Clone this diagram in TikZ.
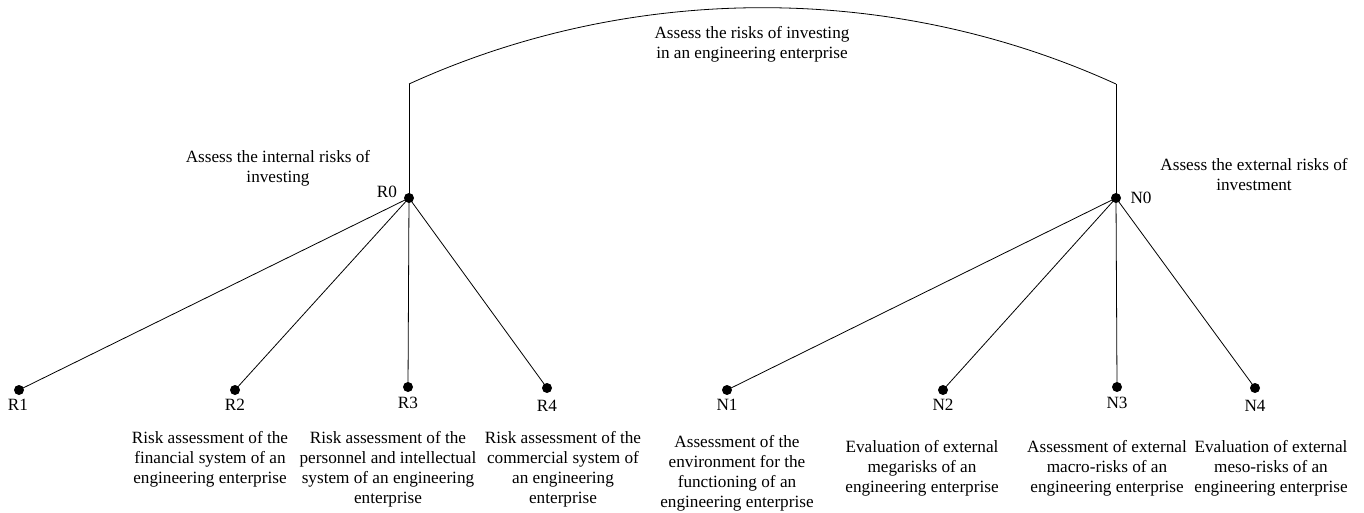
\documentclass[tikz,border=0pt]{standalone}
\usepackage{fontspec}
\setmainfont{Liberation Serif}
\begin{document}
\begin{tikzpicture}[x=1pt,y=-1pt,
  dot/.style={circle,fill=black,inner sep=0pt,minimum size=10pt},
  lbl/.style={inner sep=0pt,font=\fontsize{17.2}{20}\selectfont},
  txt/.style={inner sep=0pt,anchor=north,align=center,font=\fontsize{17.2}{20}\selectfont},
  conn/.style={line width=0.8pt}]
\useasboundingbox (0,0) rectangle (1364,513);
% dots
\node[dot] (R0) at (409,198) {};
\node[dot] (N0) at (1116,198) {};
\node[dot] (R1) at (19,390) {};
\node[dot] (R2) at (235,390) {};
\node[dot] (R3) at (408,387) {};
\node[dot] (R4) at (547,388) {};
\node[dot] (N1) at (727,390) {};
\node[dot] (N2) at (943,390) {};
\node[dot] (N3) at (1117,387) {};
\node[dot] (N4) at (1255,388) {};
\coordinate (RT) at (409,84);
\coordinate (NT) at (1116,84);
% connectors
\draw[conn] (R0.center) -- (RT);
\draw[conn] (N0.center) -- (NT);
\draw[conn] (RT) to[bend left=24.5,looseness=0.89] (NT);
\foreach \c in {R1,R2,R3,R4} \draw[conn] (R0.center) -- (\c.center);
\foreach \c in {N1,N2,N3,N4} \draw[conn] (N0.center) -- (\c.center);
% labels
\node[lbl] (lR0) at (387,192) {R0};
\node[lbl] (lN0) at (1141,198) {N0};
\node[lbl] (lR1) at (18,405) {R1};
\node[lbl] (lR2) at (235,405) {R2};
\node[lbl] (lR3) at (408,403) {R3};
\node[lbl] (lR4) at (547,406) {R4};
\node[lbl] (lN1) at (727,405) {N1};
\node[lbl] (lN2) at (943,405) {N2};
\node[lbl] (lN3) at (1117,403) {N3};
\node[lbl] (lN4) at (1255,406) {N4};
% texts
\node[txt] (tTop) at (752,26) {Assess the risks of investing\\in an engineering enterprise};
\node[txt] (tInt) at (278,150) {Assess the internal risks of\\investing};
\node[txt] (tExt) at (1254,158) {Assess the external risks of\\investment};
\node[txt] (tR2) at (210,431) {Risk assessment of the\\financial system of an\\engineering enterprise};
\node[txt] (tR3) at (388,431) {Risk assessment of the\\personnel and intellectual\\system of an engineering\\enterprise};
\node[txt] (tR4) at (563,431) {Risk assessment of the\\commercial system of\\an engineering\\enterprise};
\node[txt] (tN1) at (737,435) {Assessment of the\\environment for the\\functioning of an\\engineering enterprise};
\node[txt] (tN2) at (922,440) {Evaluation of external\\megarisks of an\\engineering enterprise};
\node[txt] (tN3) at (1107,440) {Assessment of external\\macro-risks of an\\engineering enterprise};
\node[txt] (tN4) at (1271,440) {Evaluation of external\\meso-risks of an\\engineering enterprise};
\end{tikzpicture}
\end{document}
